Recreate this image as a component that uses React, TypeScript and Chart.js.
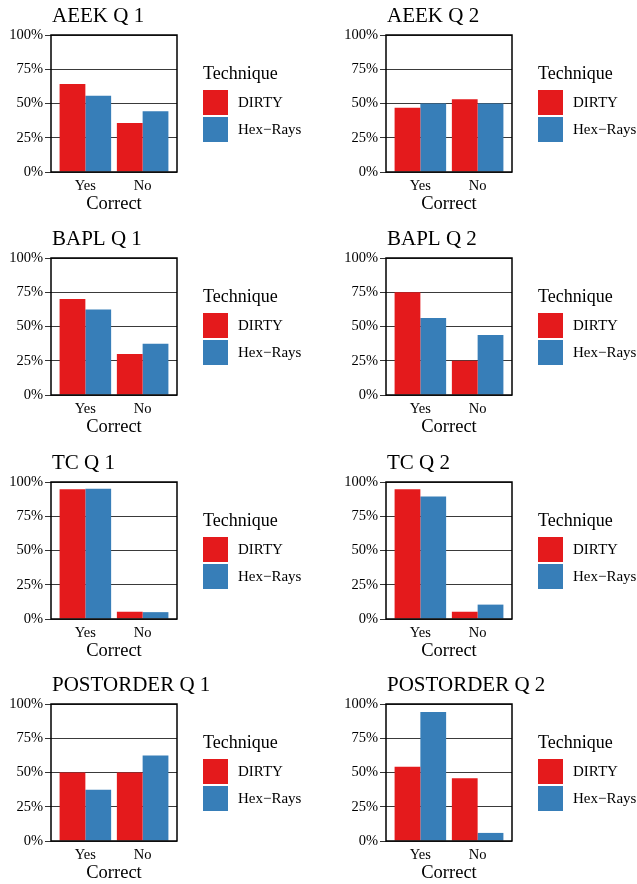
import React, { useEffect, useRef } from 'react';
import { Chart, registerables } from 'chart.js';

Chart.register(...registerables);

// ---- data ----
const categories = ['Yes', 'No'];
const panelTitles = [
  'AEEK Q 1', 'AEEK Q 2',
  'BAPL Q 1', 'BAPL Q 2',
  'TC Q 1', 'TC Q 2',
  'POSTORDER Q 1', 'POSTORDER Q 2',
];
const techniques = ['DIRTY', 'Hex\u2212Rays'];
const dirtyYes = [64.3, 46.9, 70, 75, 94.7, 94.7, 50, 54.2];
const dirtyNo = [35.7, 53.1, 30, 25, 5.3, 5.3, 50, 45.8];
const hexRaysYes = [55.6, 50, 62.5, 56.25, 95, 89.5, 37.5, 94.1];
const hexRaysNo = [44.4, 50, 37.5, 43.75, 5, 10.5, 62.5, 5.9];
const yTicks = [0, 25, 50, 75, 100];
const legendTitle = 'Technique';
const xTitle = 'Correct';

const colors = ['#E41A1C', '#377EB8'];
const SERIF = "'Liberation Serif', 'Times New Roman', Times, serif";

const colLeft = [0, 335];
const colWidth = [318, 302];
const rowTop = [0, 223, 447, 669];
const canvasHeight = 222;

const decorPlugin = {
  id: 'decor',
  afterDraw(chart: any, _args: any, opts: any) {
    const { ctx, chartArea: a } = chart;
    ctx.save();
    ctx.strokeStyle = '#000';
    ctx.lineWidth = 1.5;
    ctx.strokeRect(a.left, a.top, a.right - a.left, a.bottom - a.top);
    ctx.fillStyle = '#000';
    ctx.textAlign = 'left';
    ctx.textBaseline = 'alphabetic';
    ctx.font = `21px ${SERIF}`;
    ctx.fillText(opts.title, a.left + 1, a.top - 13);
    const lx = a.right + 26;
    ctx.font = `18px ${SERIF}`;
    ctx.fillText(opts.legendTitle, lx, a.top + 44);
    chart.data.datasets.forEach((ds: any, k: number) => {
      const y = a.top + 55 + k * 27;
      ctx.fillStyle = ds.backgroundColor;
      ctx.fillRect(lx, y, 25, 25);
      ctx.fillStyle = '#000';
      ctx.font = `15px ${SERIF}`;
      ctx.textBaseline = 'middle';
      ctx.fillText(ds.label, lx + 35, y + 13);
    });
    ctx.restore();
  },
};

function Panel({ index }: { index: number }) {
  const ref = useRef<HTMLCanvasElement | null>(null);
  const col = index % 2;
  const row = Math.floor(index / 2);
  const w = colWidth[col];
  const h = canvasHeight;

  useEffect(() => {
    if (!ref.current) return;
    const series = [
      [dirtyYes[index], dirtyNo[index]],
      [hexRaysYes[index], hexRaysNo[index]],
    ];
    const chart = new Chart(ref.current, {
      type: 'bar',
      data: {
        datasets: techniques.map((t, k) => ({
          label: t,
          data: series[k].map((y, c) => ({ x: c + 1, y })),
          backgroundColor: colors[k],
          borderWidth: 0,
          categoryPercentage: 0.9,
          barPercentage: 1,
        })),
      },
      options: {
        animation: false,
        responsive: false,
        devicePixelRatio: 1,
        layout: { padding: { top: 35, left: 0, bottom: 0, right: w - 177 } },
        plugins: {
          legend: { display: false },
          tooltip: { enabled: false },
          title: { display: false },
          decor: { title: panelTitles[index], legendTitle },
        } as any,
        scales: {
          x: {
            type: 'linear',
            min: 0.4,
            max: 2.6,
            offset: false,
            grid: { display: false, drawTicks: false, offset: false },
            border: { display: false },
            afterBuildTicks: (axis: any) => {
              axis.ticks = categories.map((_, c) => ({ value: c + 1 }));
            },
            afterFit: (axis: any) => {
              axis.height = 50;
            },
            ticks: {
              padding: 5,
              maxRotation: 0,
              autoSkip: false,
              color: '#000',
              font: { family: SERIF, size: 14.5 },
              callback: (_v: any, i: number) => categories[i],
            },
            title: {
              display: true,
              text: xTitle,
              color: '#000',
              font: { family: SERIF, size: 18.5 },
              padding: { top: 0, bottom: 7 },
            },
          },
          y: {
            type: 'linear',
            min: 0,
            max: 100,
            grid: { color: '#3a3a3a', lineWidth: 1, tickLength: 6, tickColor: '#333', drawTicks: true },
            border: { display: false },
            afterBuildTicks: (axis: any) => {
              axis.ticks = yTicks.map((v) => ({ value: v }));
            },
            afterFit: (axis: any) => {
              axis.width = 51;
            },
            ticks: {
              padding: 2,
              color: '#000',
              font: { family: SERIF, size: 14.5 },
              callback: (v: any) => `${v}%`,
            },
          },
        },
      },
      plugins: [decorPlugin],
    } as any);
    return () => chart.destroy();
  }, [index, w]);

  return (
    <canvas
      ref={ref}
      width={w}
      height={h}
      style={{ position: 'absolute', left: colLeft[col], top: rowTop[row], width: w, height: h }}
    />
  );
}

export default function App() {
  return (
    <div style={{ position: 'absolute', left: 0, top: 0, width: 637, height: 884, background: '#fff', overflow: 'hidden' }}>
      {panelTitles.map((_, i) => (
        <Panel key={i} index={i} />
      ))}
    </div>
  );
}
